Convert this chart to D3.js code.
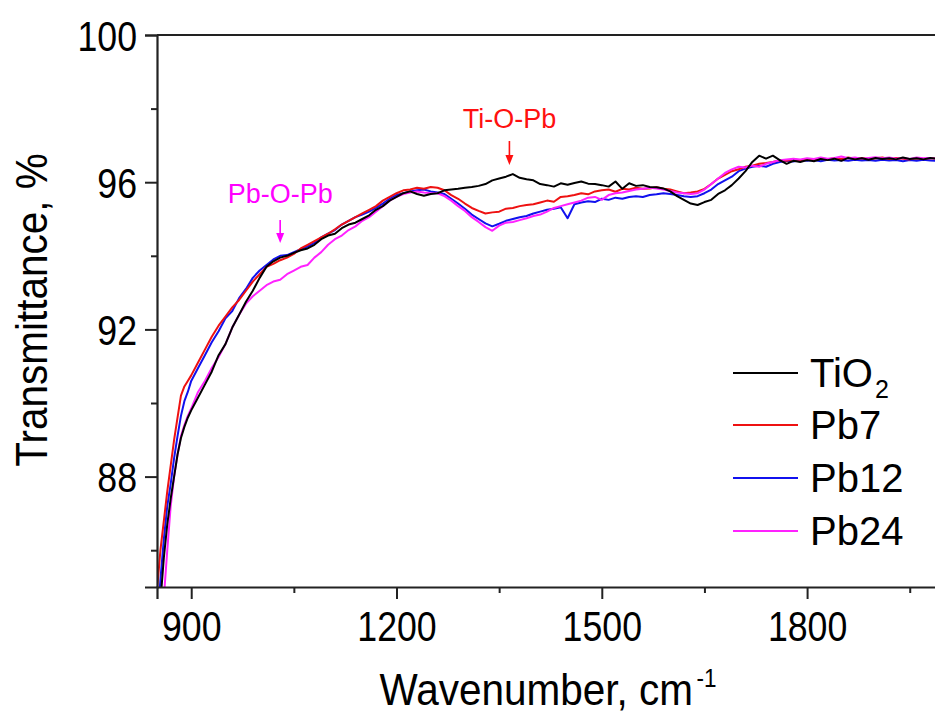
<!DOCTYPE html>
<html>
<head>
<meta charset="utf-8">
<script src="https://cdn.jsdelivr.net/npm/d3@7"></script>
<style>
html,body{margin:0;padding:0;background:#fff;overflow:hidden;}
svg{display:block;}
</style>
</head>
<body>
<svg id="chart" width="935" height="715"></svg>
<script>
const wavenumber = [850,855,860,865,870,875,880,885,890,895,
 900,910,920,930,940,950,960,970,980,990,
 1000,1010,1020,1030,1040,1050,1060,1070,1080,1090,
 1100,1110,1120,1130,1140,1150,1160,1170,1180,1190,
 1200,1210,1220,1230,1240,1250,1260,1270,1280,1290,
 1300,1310,1320,1330,1340,1350,1360,1370,1380,1390,
 1400,1410,1420,1430,1440,1450,1460,1470,1480,1490,
 1500,1510,1520,1530,1540,1550,1560,1570,1580,1590,
 1600,1610,1620,1630,1640,1650,1660,1670,1680,1690,
 1700,1710,1720,1730,1740,1750,1760,1770,1780,1790,
 1800,1810,1820,1830,1840,1850,1860,1870,1880,1890,
 1900,1910,1920,1930,1940,1950,1960,1970,1980,1990];

const tio2 = [83.5,84.6,85.8,86.7,87.4,88.0,88.6,89.05,89.35,89.6,
 89.8,90.15,90.5,90.85,91.3,91.6,92.05,92.4,92.75,93.05,
 93.4,93.7,93.85,93.95,94.0,94.08,94.15,94.2,94.3,94.45,
 94.55,94.6,94.75,94.85,94.9,95.0,95.1,95.25,95.35,95.5,
 95.6,95.7,95.75,95.68,95.63,95.68,95.7,95.78,95.8,95.82,
 95.85,95.87,95.9,95.95,96.05,96.1,96.15,96.22,96.12,96.08,
 96.05,95.95,95.92,95.88,95.97,95.93,95.98,96.02,95.96,95.95,
 95.92,95.88,96.02,95.82,95.97,95.9,95.92,95.87,95.86,95.83,
 95.75,95.62,95.52,95.42,95.38,95.46,95.52,95.68,95.78,95.92,
 96.1,96.3,96.55,96.72,96.64,96.72,96.6,96.5,96.58,96.55,
 96.6,96.57,96.63,96.6,96.64,96.58,96.66,96.62,96.65,96.61,
 96.66,96.63,96.65,96.62,96.67,96.63,96.65,96.62,96.66,96.64];

const pb7 = [84.9,86.0,86.8,87.6,88.3,89.0,89.6,90.2,90.45,90.6,
 90.75,91.1,91.45,91.8,92.1,92.35,92.6,92.8,93.05,93.3,
 93.5,93.7,93.78,93.88,93.95,94.05,94.2,94.3,94.4,94.5,
 94.6,94.72,94.85,94.95,95.05,95.15,95.25,95.35,95.5,95.6,
 95.7,95.78,95.8,95.85,95.82,95.87,95.85,95.78,95.65,95.55,
 95.42,95.3,95.22,95.15,95.18,95.2,95.28,95.3,95.35,95.38,
 95.4,95.45,95.5,95.47,95.6,95.62,95.65,95.7,95.67,95.75,
 95.78,95.8,95.74,95.82,95.8,95.85,95.82,95.83,95.86,95.82,
 95.8,95.75,95.7,95.72,95.75,95.82,95.95,96.1,96.2,96.3,
 96.35,96.42,96.45,96.5,96.52,96.55,96.6,96.58,96.62,96.6,
 96.63,96.6,96.64,96.62,96.66,96.63,96.67,96.64,96.66,96.63,
 96.65,96.67,96.63,96.66,96.64,96.62,96.65,96.63,96.66,96.64];

const pb12 = [83.9,85.2,86.3,87.2,87.8,88.5,89.1,89.65,90.05,90.3,
 90.6,90.95,91.3,91.65,91.95,92.3,92.5,92.85,93.1,93.4,
 93.6,93.75,93.9,94.0,94.02,94.1,94.18,94.25,94.35,94.5,
 94.6,94.7,94.85,94.95,95.05,95.12,95.2,95.3,95.42,95.55,
 95.65,95.7,95.75,95.78,95.8,95.75,95.72,95.68,95.55,95.42,
 95.28,95.12,95.0,94.88,94.8,94.87,94.95,95.0,95.05,95.08,
 95.15,95.2,95.25,95.28,95.32,95.02,95.4,95.45,95.48,95.46,
 95.55,95.52,95.58,95.55,95.6,95.62,95.6,95.65,95.67,95.7,
 95.68,95.65,95.62,95.6,95.62,95.7,95.8,95.95,96.05,96.15,
 96.3,96.37,96.42,96.45,96.42,96.5,96.55,96.58,96.56,96.6,
 96.58,96.6,96.57,96.61,96.59,96.6,96.58,96.61,96.59,96.6,
 96.58,96.61,96.59,96.6,96.57,96.6,96.58,96.61,96.59,96.58];

const pb24 = [82.5,83.6,84.7,86.0,87.2,88.0,88.6,89.1,89.4,89.65,
 89.85,90.3,90.6,90.95,91.25,91.6,92.05,92.4,92.7,92.9,
 93.05,93.2,93.3,93.35,93.5,93.6,93.7,93.75,93.95,94.1,
 94.3,94.45,94.55,94.7,94.8,94.95,95.05,95.2,95.35,95.5,
 95.6,95.68,95.72,95.75,95.72,95.7,95.7,95.62,95.5,95.35,
 95.22,95.05,94.92,94.78,94.68,94.82,94.9,94.92,94.97,95.02,
 95.08,95.12,95.2,95.3,95.35,95.4,95.45,95.5,95.58,95.6,
 95.52,95.65,95.7,95.72,95.76,95.8,95.82,95.85,95.83,95.8,
 95.76,95.72,95.7,95.68,95.7,95.8,95.95,96.1,96.25,96.35,
 96.42,96.4,96.45,96.42,96.5,96.55,96.6,96.62,96.64,96.62,
 96.65,96.63,96.67,96.64,96.66,96.7,96.65,96.67,96.64,96.66,
 96.68,96.65,96.67,96.64,96.66,96.63,96.67,96.65,96.66,96.64];

const seriesNames = ["TiO2","Pb7","Pb12","Pb24"];
const seriesColors = ["#000000","#ee1111","#1111ee","#ff22ff"];
const seriesValues = [tio2, pb7, pb12, pb24];
const drawOrder = [2,1,3,0];

const xTicks = [900,1200,1500,1800];
const xMinorTicks = [1050,1350,1650,1950];
const yTicks = [88,92,96,100];
const yMinorTicks = [86,90,94,98];

const annotations = [
  {label:"Pb-O-Pb", x:1030, color:"#ff00ff"},
  {label:"Ti-O-Pb", x:1365, color:"#ff1010"}
];

const svg = d3.select("#chart");
const x = d3.scaleLinear().domain([850,2000]).range([157, 157 + 1150*0.6843]);
const y = d3.scaleLinear().domain([85,100]).range([587,35]);

const font = "'Liberation Sans',Arial,sans-serif";

function condense(sel, f){
  sel.each(function(){
    const w = this.getComputedTextLength();
    d3.select(this).attr("textLength", w*f).attr("lengthAdjust","spacingAndGlyphs");
  });
}

svg.append("defs").append("clipPath").attr("id","clip")
  .append("rect").attr("x",158).attr("y",35).attr("width",800).attr("height",552);

// lines
const line = d3.line().x((d,i)=>x(wavenumber[i])).y(d=>y(d));
const g = svg.append("g").attr("clip-path","url(#clip)");
drawOrder.forEach(k=>{
  g.append("path").datum(seriesValues[k])
    .attr("fill","none").attr("stroke",seriesColors[k])
    .attr("stroke-width",2).attr("stroke-linejoin","round")
    .attr("d",line);
});

// axes
const axisColor = "#222";
const yAxis = svg.append("g").attr("transform","translate(157,0)")
  .call(d3.axisLeft(y).tickValues(yTicks).tickSize(12).tickPadding(8).tickFormat(d3.format("d")));
svg.append("g").attr("transform","translate(157,0)")
  .call(d3.axisLeft(y).tickValues(yMinorTicks).tickSize(6).tickFormat(""))
  .select(".domain").remove();
const xAxis = svg.append("g").attr("transform","translate(0,587)")
  .call(d3.axisBottom(x).tickValues(xTicks).tickSize(12).tickPadding(12).tickFormat(d3.format("d")));
svg.append("g").attr("transform","translate(0,587)")
  .call(d3.axisBottom(x).tickValues(xMinorTicks).tickSize(6).tickFormat(""))
  .select(".domain").remove();
// top border
svg.append("line").attr("x1",157).attr("x2",x(2000)).attr("y1",y(100)).attr("y2",y(100))
  .attr("stroke",axisColor).attr("stroke-width",2.2);

svg.selectAll(".domain").attr("stroke",axisColor).attr("stroke-width",2.2);
svg.selectAll(".tick line").attr("stroke",axisColor).attr("stroke-width",2);
svg.selectAll(".tick text").attr("fill","#000").style("font-family",font).style("font-size","42px");
yAxis.selectAll(".tick text").attr("x",-20).attr("dy","0.36em");
condense(svg.selectAll(".tick text"), 0.85);

// axis titles
const yt = svg.append("text").attr("transform","translate(47,310) rotate(-90)")
  .attr("text-anchor","middle").style("font-family",font).style("font-size","45px")
  .text("Transmittance, %");
condense(yt, 0.9);
const xt = svg.append("g").attr("transform","translate(548,705) scale(0.9,1)")
  .append("text").attr("x",0).attr("y",0)
  .attr("text-anchor","middle").style("font-family",font).style("font-size","45px");
xt.append("tspan").text("Wavenumber, cm");
xt.append("tspan").attr("dx","4").attr("dy","-18").style("font-size","25px").text("-1");

// legend
const legendY = [373,425,478,531];
seriesNames.forEach((name,i)=>{
  svg.append("line").attr("x1",733).attr("x2",798).attr("y1",legendY[i]).attr("y2",legendY[i])
    .attr("stroke",seriesColors[i]).attr("stroke-width",2);
  const t = svg.append("text").attr("x",810).attr("y",legendY[i]).attr("dy","0.36em")
    .style("font-family",font).style("font-size","40px");
  if(name==="TiO2"){
    t.append("tspan").text("TiO");
    t.append("tspan").attr("dx","2").attr("dy","11").style("font-size","25px").text("2");
  } else {
    t.text(name);
  }
});

// annotations
const annY = [{text:203, a1:220, a2:243},{text:128, a1:141, a2:165}];
annotations.forEach((a,i)=>{
  const cx = x(a.x);
  svg.append("text").attr("x",cx).attr("y",annY[i].text).attr("text-anchor","middle")
    .attr("fill",a.color).style("font-family",font).style("font-size","27px")
    .text(a.label);
  svg.append("line").attr("x1",cx).attr("x2",cx).attr("y1",annY[i].a1).attr("y2",annY[i].a2-8)
    .attr("stroke",a.color).attr("stroke-width",1.6);
  svg.append("path").attr("d",`M${cx-4},${annY[i].a2-10} L${cx+4},${annY[i].a2-10} L${cx},${annY[i].a2} Z`)
    .attr("fill",a.color);
});
</script>
</body>
</html>
